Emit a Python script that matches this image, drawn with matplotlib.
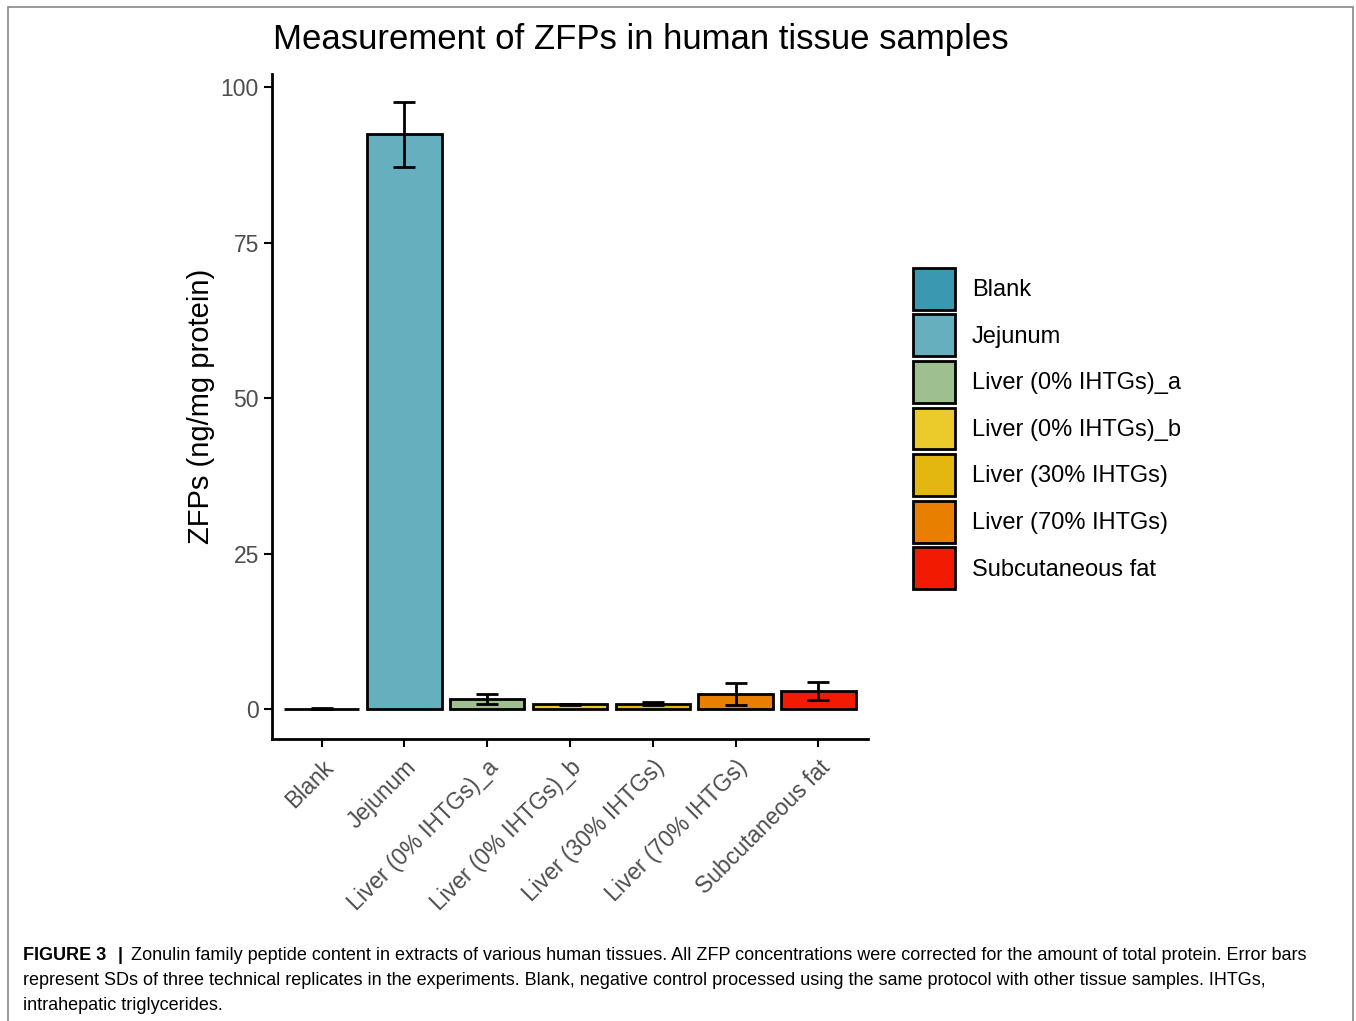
import numpy as np
import matplotlib.pyplot as plt
from matplotlib.patches import Rectangle, Patch

plt.rcParams['font.family'] = ['Liberation Sans', 'DejaVu Sans']

categories = ['Blank', 'Jejunum', 'Liver (0% IHTGs)_a', 'Liver (0% IHTGs)_b',
              'Liver (30% IHTGs)', 'Liver (70% IHTGs)', 'Subcutaneous fat']
means = [0.1, 92.4, 1.6, 0.75, 0.9, 2.4, 2.9]
sds = [0.05, 5.2, 0.8, 0.05, 0.2, 1.8, 1.4]
colors = ['#3A99B1', '#65AFBF', '#9EBF8F', '#EACB2B', '#E3B710', '#E87F00', '#F21A00']

caption = ("Zonulin family peptide content in extracts of various human tissues. All ZFP concentrations were corrected for the amount of total protein. Error bars\n"
           "represent SDs of three technical replicates in the experiments. Blank, negative control processed using the same protocol with other tissue samples. IHTGs,\n"
           "intrahepatic triglycerides.")

fig = plt.figure(figsize=(13.56, 10.21), dpi=100)
ax = fig.add_axes([272/1356, 1 - 739/1021, 596/1356, 665/1021])

x = np.arange(1, len(categories) + 1)
ax.bar(x, means, width=0.9, color=colors, edgecolor='black', linewidth=2, zorder=2)
ax.errorbar(x, means, yerr=sds, fmt='none', ecolor='black', elinewidth=2,
            capsize=8, capthick=2, zorder=3)

ax.set_xlim(0.4, 7.6)
ax.set_ylim(-4.8, 102.1)
ax.set_yticks([0, 25, 50, 75, 100])
ax.set_xticks(x)
ax.set_xticklabels(categories, rotation=45, ha='right', rotation_mode='anchor')
ax.tick_params(axis='both', labelsize=16.5, labelcolor='#4D4D4D', length=6, width=1.5)
ax.tick_params(axis='x', pad=6)
for s in ['top', 'right']:
    ax.spines[s].set_visible(False)
for s in ['left', 'bottom']:
    ax.spines[s].set_linewidth(2)
ax.set_ylabel('ZFPs (ng/mg protein)', fontsize=21, labelpad=4)

fig.text(641/1356, 1 - 40/1021, 'Measurement of ZFPs in human tissue samples',
         fontsize=25, ha='center', va='center')

handles = [Patch(facecolor=c, edgecolor='black', linewidth=2) for c in colors]
fig.legend(handles, categories, loc='upper left', bbox_to_anchor=(894/1356, 1 - 249/1021),
           frameon=False, fontsize=17, handlelength=1.8, handleheight=2.35,
           labelspacing=0.2, handletextpad=0.7, borderpad=0.3)

# figure border and caption
fig.patches.append(Rectangle((8/1356, -0.01), 1345/1356, 1.0 - 7/1021 + 0.01,
                             transform=fig.transFigure, fill=False,
                             edgecolor='#888888', linewidth=1.2))
fig.text(23/1356, 1 - 955/1021, 'FIGURE 3', fontsize=13, fontweight='bold', va='center')
fig.text(118/1356, 1 - 955/1021, '|', fontsize=13, fontweight='bold', va='center')
fig.text(131/1356, 1 - 955/1021, caption.split('\n')[0], fontsize=13, va='center')
fig.text(23/1356, 1 - 980/1021, caption.split('\n')[1], fontsize=13, va='center')
fig.text(23/1356, 1 - 1005/1021, caption.split('\n')[2], fontsize=13, va='center')

fig.savefig('out.png', dpi=100)
